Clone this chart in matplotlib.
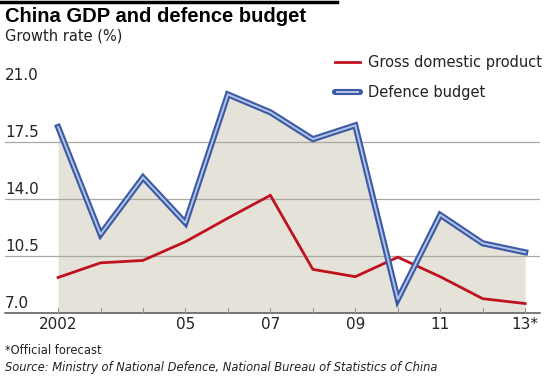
"""China GDP and defence budget growth, 2002-2013."""

import matplotlib.pyplot as plt
import numpy as np

YEARS = np.arange(2002, 2014)
GDP = [9.15, 10.05, 10.2, 11.35, 12.8, 14.2, 9.65, 9.2, 10.4, 9.2, 7.85, 7.55]
DEFENCE = [18.4, 11.8, 15.3, 12.5, 20.4, 19.3, 17.65, 18.5, 7.8, 13.0, 11.25, 10.7]
Y_TICKS = [7.0, 10.5, 14.0, 17.5, 21.0]
X_LABELS = {2002: "2002", 2005: "05", 2007: "07", 2009: "09", 2011: "11", 2013: "13*"}

W, H = 550, 381
RED = "#c0121e"
BLUE_DARK = "#3b5aa6"
BLUE_LIGHT = "#b4c4e6"
FILL = "#e5e2d9"
GRID = "#a9a8a0"
TEXT = "#222222"

plt.rcParams["font.family"] = ["DejaVu Sans"]

fig = plt.figure(figsize=(W / 100, H / 100), dpi=100)
fig.patch.set_facecolor("white")

# axes placed in pixel terms
left, right, top, bottom = 5, 540, 70, 312.5
ax = fig.add_axes([left / W, (H - bottom) / H, (right - left) / W, (bottom - top) / H])
ax.set_xlim(2000.75, 2013.35)
ax.set_ylim(7.0, 21.9)
for s in ax.spines.values():
    s.set_visible(False)
ax.set_xticks([])
ax.set_yticks([])

# gridlines and labels sitting just above them
for v in Y_TICKS[1:4]:
    ax.axhline(v, color=GRID, lw=0.9, zorder=1)
for v in Y_TICKS:
    ax.text(2000.75, v + 0.27, f"{v:.1f}", ha="left", va="baseline",
            fontsize=11, color=TEXT)

ax.fill_between(YEARS, 7.0, DEFENCE, color=FILL, zorder=0.5, lw=0)
ax.plot(YEARS, GDP, color=RED, lw=2.0, zorder=3, solid_joinstyle="miter")
ax.plot(YEARS, DEFENCE, color=BLUE_DARK, lw=4.4, zorder=4, solid_joinstyle="miter")
ax.plot(YEARS, DEFENCE, color=BLUE_LIGHT, lw=1.4, zorder=5, solid_joinstyle="miter")

# baseline and small ticks
ax.axhline(7.0, color="#555555", lw=1.1, zorder=6, clip_on=False)
for yr in YEARS:
    ax.plot([yr, yr], [7.0, 7.25], color="#999999", lw=0.8, zorder=6)
for yr, lab in X_LABELS.items():
    ax.text(yr, 6.72, lab, ha="center", va="top", fontsize=11, color=TEXT,
            clip_on=False)

# legend
fig.add_artist(plt.Line2D([335 / W, 360 / W], [1 - 62 / H] * 2, color=RED, lw=2.0))
fig.add_artist(plt.Line2D([335 / W, 360 / W], [1 - 92 / H] * 2, color=BLUE_DARK,
                          lw=4.4, solid_capstyle="round"))
fig.add_artist(plt.Line2D([337 / W, 358 / W], [1 - 92 / H] * 2, color=BLUE_LIGHT,
                          lw=1.4))
fig.text(368 / W, 1 - 62 / H, "Gross domestic product", ha="left", va="center",
         fontsize=10.5, color=TEXT)
fig.text(368 / W, 1 - 92 / H, "Defence budget", ha="left", va="center",
         fontsize=10.5, color=TEXT)

# title block
fig.add_artist(plt.Line2D([0, 337 / W], [1 - 2 / H] * 2, color="black", lw=2.5))
fig.text(5 / W, 1 - 17 / H, "China GDP and defence budget", ha="left",
         va="center", fontsize=14.5, fontweight="bold",
         family=["Liberation Sans Narrow", "Liberation Sans"], color="black")
fig.text(5 / W, 1 - 36 / H, "Growth rate (%)", ha="left", va="center",
         fontsize=10.5, color=TEXT)

# footnotes
fig.text(5 / W, 1 - 351 / H, "*Official forecast", ha="left", va="center",
         fontsize=8.3, color=TEXT)
fig.text(5 / W, 1 - 368 / H,
         "Source: Ministry of National Defence, National Bureau of Statistics of China",
         ha="left", va="center", fontsize=8.3, style="italic", color=TEXT)

fig.savefig("out.png", dpi=100, facecolor="white")
